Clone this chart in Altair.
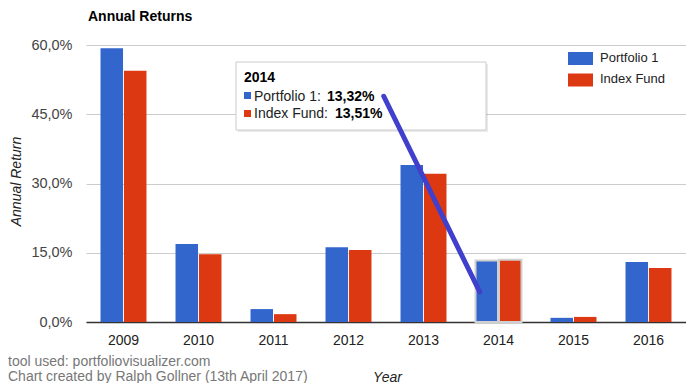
import altair as alt
import pandas as pd

# ---- data ----
years = ["2009", "2010", "2011", "2012", "2013", "2014", "2015", "2016"]
series = ["Portfolio 1", "Index Fund"]
portfolio_1 = [59.3, 16.9, 2.8, 16.2, 34.0, 13.32, 0.9, 13.0]
index_fund = [54.4, 14.7, 1.7, 15.6, 32.1, 13.51, 1.1, 11.7]
colors = ["#3366cc", "#dc3912"]
y_ticks = [0, 15, 30, 45, 60]
highlight_year = "2014"
# hand-drawn annotation stroke (category-index units, percent)
arrow_x = [3.97, 5.25]
arrow_y = [48.9, 6.5]
footer_lines = ["tool used: portfoliovisualizer.com",
                "Chart created by Ralph Gollner (13th April 2017)"]

FONT = "Liberation Sans"

rows = []
for i, yr in enumerate(years):
    rows.append({"year": yr, "series": series[0], "value": portfolio_1[i]})
    rows.append({"year": yr, "series": series[1], "value": index_fund[i]})
df = pd.DataFrame(rows)

bars = alt.Chart(df).mark_bar().encode(
    x=alt.X("year:N", sort=years,
            scale=alt.Scale(paddingInner=0.387, paddingOuter=0.1935),
            axis=alt.Axis(title="Year", titleFontStyle="italic", titleFontWeight="normal",
                          titleFont=FONT, titleFontSize=14, titleColor="#222",
                          titleBaseline="alphabetic", titleY=59, titleX=301,
                          labelAngle=0, labelFont=FONT, labelFontSize=14, labelColor="#222",
                          labelBaseline="alphabetic", labelPadding=22,
                          ticks=False, tickSize=0, domainColor="#333", domainWidth=1.5,
                          grid=False)),
    xOffset=alt.XOffset("series:N", sort=series, scale=alt.Scale(paddingInner=0.04)),
    y=alt.Y("value:Q", scale=alt.Scale(domain=[0, 60], nice=False),
            axis=alt.Axis(title="Annual Return", titleFontStyle="italic", titleFontWeight="normal",
                          titleFont=FONT, titleFontSize=14, titleColor="#222",
                          titleX=-66, titleY=136, titleBaseline="alphabetic",
                          values=y_ticks,
                          labelExpr="replace(format(datum.value, '.1f'), '.', ',') + '%'",
                          labelFont=FONT, labelFontSize=14.5, labelColor="#444",
                          labelPadding=14, ticks=False, tickSize=0, domain=False,
                          gridColor="#cccccc")),
    color=alt.Color("series:N", sort=series,
                    scale=alt.Scale(domain=series, range=colors), legend=None),
    stroke=alt.condition(f"datum.year == '{highlight_year}'", alt.value("#d0d0d0"),
                         alt.value("transparent")),
    strokeWidth=alt.value(2),
)

arrow_df = pd.DataFrame({"ax": arrow_x, "ay": arrow_y})
arrow = alt.Chart(arrow_df).mark_line(color="#4040cc", strokeWidth=5, strokeCap="round").encode(
    x=alt.X("ax:Q", scale=alt.Scale(domain=[0, len(years)], nice=False, zero=False), axis=None),
    y=alt.Y("ay:Q"),
)


def txt(text, x, y, size=14, color="#222", weight="normal", align="left"):
    return alt.Chart(pd.DataFrame({"t": [text]})).mark_text(
        align=align, baseline="alphabetic", font=FONT, fontSize=size,
        fontWeight=weight, color=color,
    ).encode(x=alt.value(x), y=alt.value(y), text="t:N")


def box(x, x2, y, y2, fill, stroke="transparent", opacity=1.0):
    return alt.Chart(pd.DataFrame({"d": [0]})).mark_rect(
        fill=fill, stroke=stroke, strokeWidth=1, opacity=opacity,
    ).encode(x=alt.value(x), x2=alt.value(x2), y=alt.value(y), y2=alt.value(y2))


def pct(v):
    return f"{v:.2f}".replace(".", ",") + "%"


layers = [bars]

# title
layers.append(txt("Annual Returns", 2, -24.5, weight="bold", color="#000"))

# legend
for i, (s, c) in enumerate(zip(series, colors)):
    layers.append(box(482, 507, 7 + 21.5 * i, 20 + 21.5 * i, c))
    layers.append(txt(s, 514, 17 + 21 * i, size=13, color="#222"))

# tooltip
hi = years.index(highlight_year)
layers.append(box(152, 402, 19, 87, "#000000", opacity=0.08))
layers.append(box(150, 400, 17, 85, "#ffffff", stroke="#cccccc"))
layers.append(txt(highlight_year, 158, 37, weight="bold", color="#000"))
tip_vals = [portfolio_1[hi], index_fund[hi]]
bold_x = [241, 249]
for i, (s, c) in enumerate(zip(series, colors)):
    layers.append(box(158, 165, 47 + 18 * i, 54 + 18 * i, c))
    layers.append(txt(s + ": ", 168, 56 + 17 * i, color="#222"))
    layers.append(txt(pct(tip_vals[i]), bold_x[i], 56 + 17 * i, weight="bold", color="#000"))

# annotation stroke
layers.append(arrow)

# footer
for i, line in enumerate(footer_lines):
    layers.append(txt(line, -78, 321 + 15 * i, color="#777777"))

chart = alt.layer(*layers).resolve_scale(x="independent").properties(
    width=600,
    height=277,
    autosize=alt.AutoSizeParams(type="none"),
    padding={"left": 78, "top": 37, "right": 0, "bottom": 61},
).configure_view(stroke=None)

chart.save("out.html", embed_options={"renderer": "svg", "actions": False})
